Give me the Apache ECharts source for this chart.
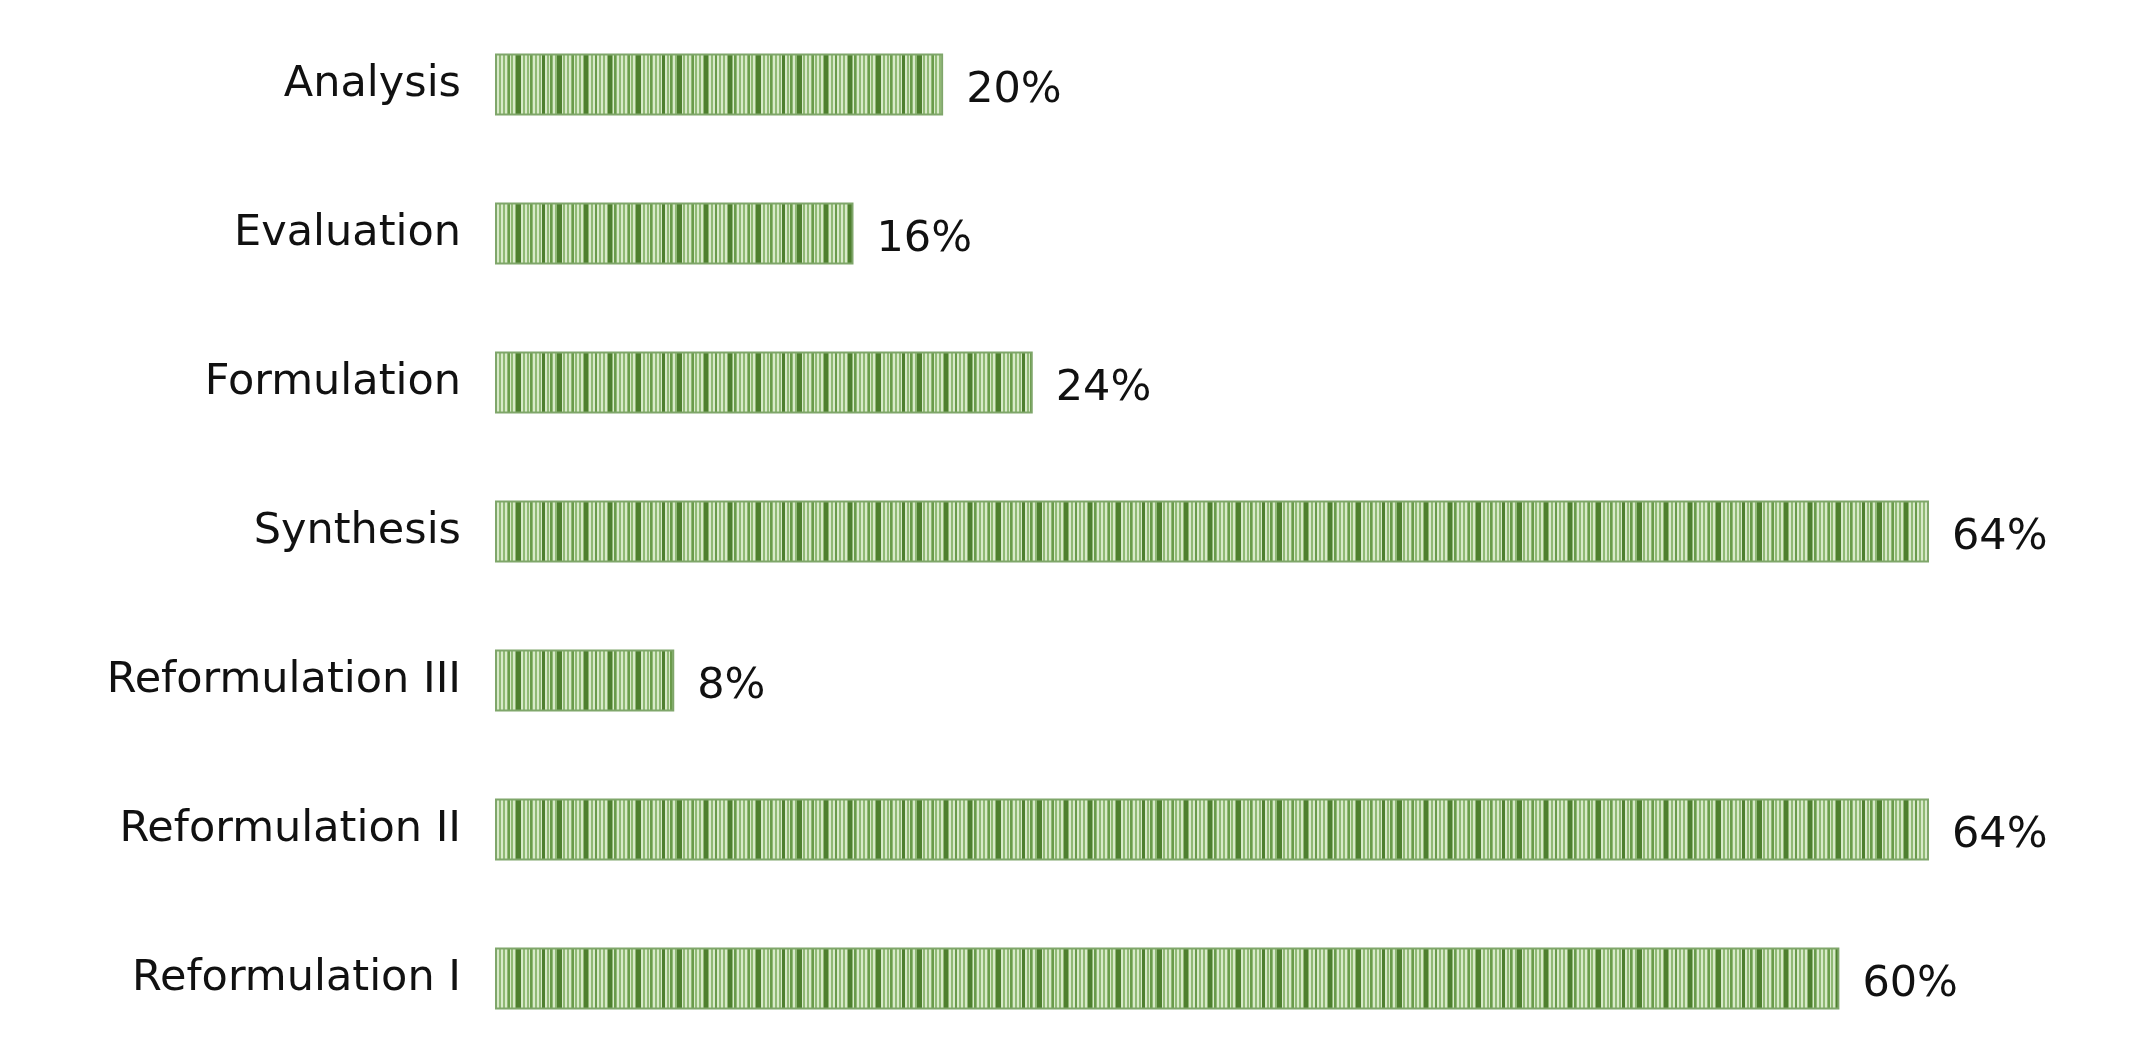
<!DOCTYPE html>
<html>
<head>
<meta charset="utf-8">
<script src="https://cdn.jsdelivr.net/npm/echarts@6/dist/echarts.min.js"></script>
<style>
html,body{margin:0;padding:0;background:#fff;}
#chart{width:2131px;height:1063px;}
</style>
</head>
<body>
<div id="chart"></div>
<script>
const categories = ["Analysis", "Evaluation", "Formulation", "Synthesis", "Reformulation III", "Reformulation II", "Reformulation I"];
const values = [20, 16, 24, 64, 8, 64, 60];

// striped "barcode" pattern tile
function makePattern() {
  const c = document.createElement('canvas');
  const w = 120, h = 8;
  c.width = w; c.height = h;
  const ctx = c.getContext('2d');
  ctx.fillStyle = '#90b975';
  ctx.fillRect(0, 0, w, h);
  ctx.fillStyle = '#d8eac9';
  for (let x = 1; x < w; x += 4) ctx.fillRect(x, 0, 2, h);
  const dark = [[8,4],[36,5],[62,3],[77,5],[104,4]];
  ctx.fillStyle = '#4e7f2f';
  dark.forEach(d => ctx.fillRect(d[0], 0, d[1], h));
  const mid = [[14,2],[28,2],[50,2],[70,2],[92,2],[115,2]];
  ctx.fillStyle = '#6a9b4b';
  mid.forEach(d => ctx.fillRect(d[0], 0, d[1], h));
  return c;
}

const chart = echarts.init(document.getElementById('chart'));
chart.setOption({
  backgroundColor: '#ffffff',
  animation: false,
  grid: { left: 495, right: 202, top: 10, bottom: 10, containLabel: false },
  xAxis: { type: 'value', min: 0, max: 64, show: false },
  yAxis: {
    type: 'category', data: categories, inverse: true,
    axisLine: { show: false }, axisTick: { show: false },
    axisLabel: { fontFamily: 'DejaVu Sans', fontSize: 43, color: '#111', margin: 34 }
  },
  series: [{
    type: 'bar', data: values, barWidth: 62,
    itemStyle: {
      color: { image: makePattern(), repeat: 'repeat' },
      borderColor: '#7fa66a', borderWidth: 2
    },
    label: {
      show: true, position: 'right', distance: 23, offset: [0, 6],
      formatter: p => p.value + '%',
      fontFamily: 'DejaVu Sans', fontSize: 43, color: '#111'
    }
  }]
});
</script>
</body>
</html>
